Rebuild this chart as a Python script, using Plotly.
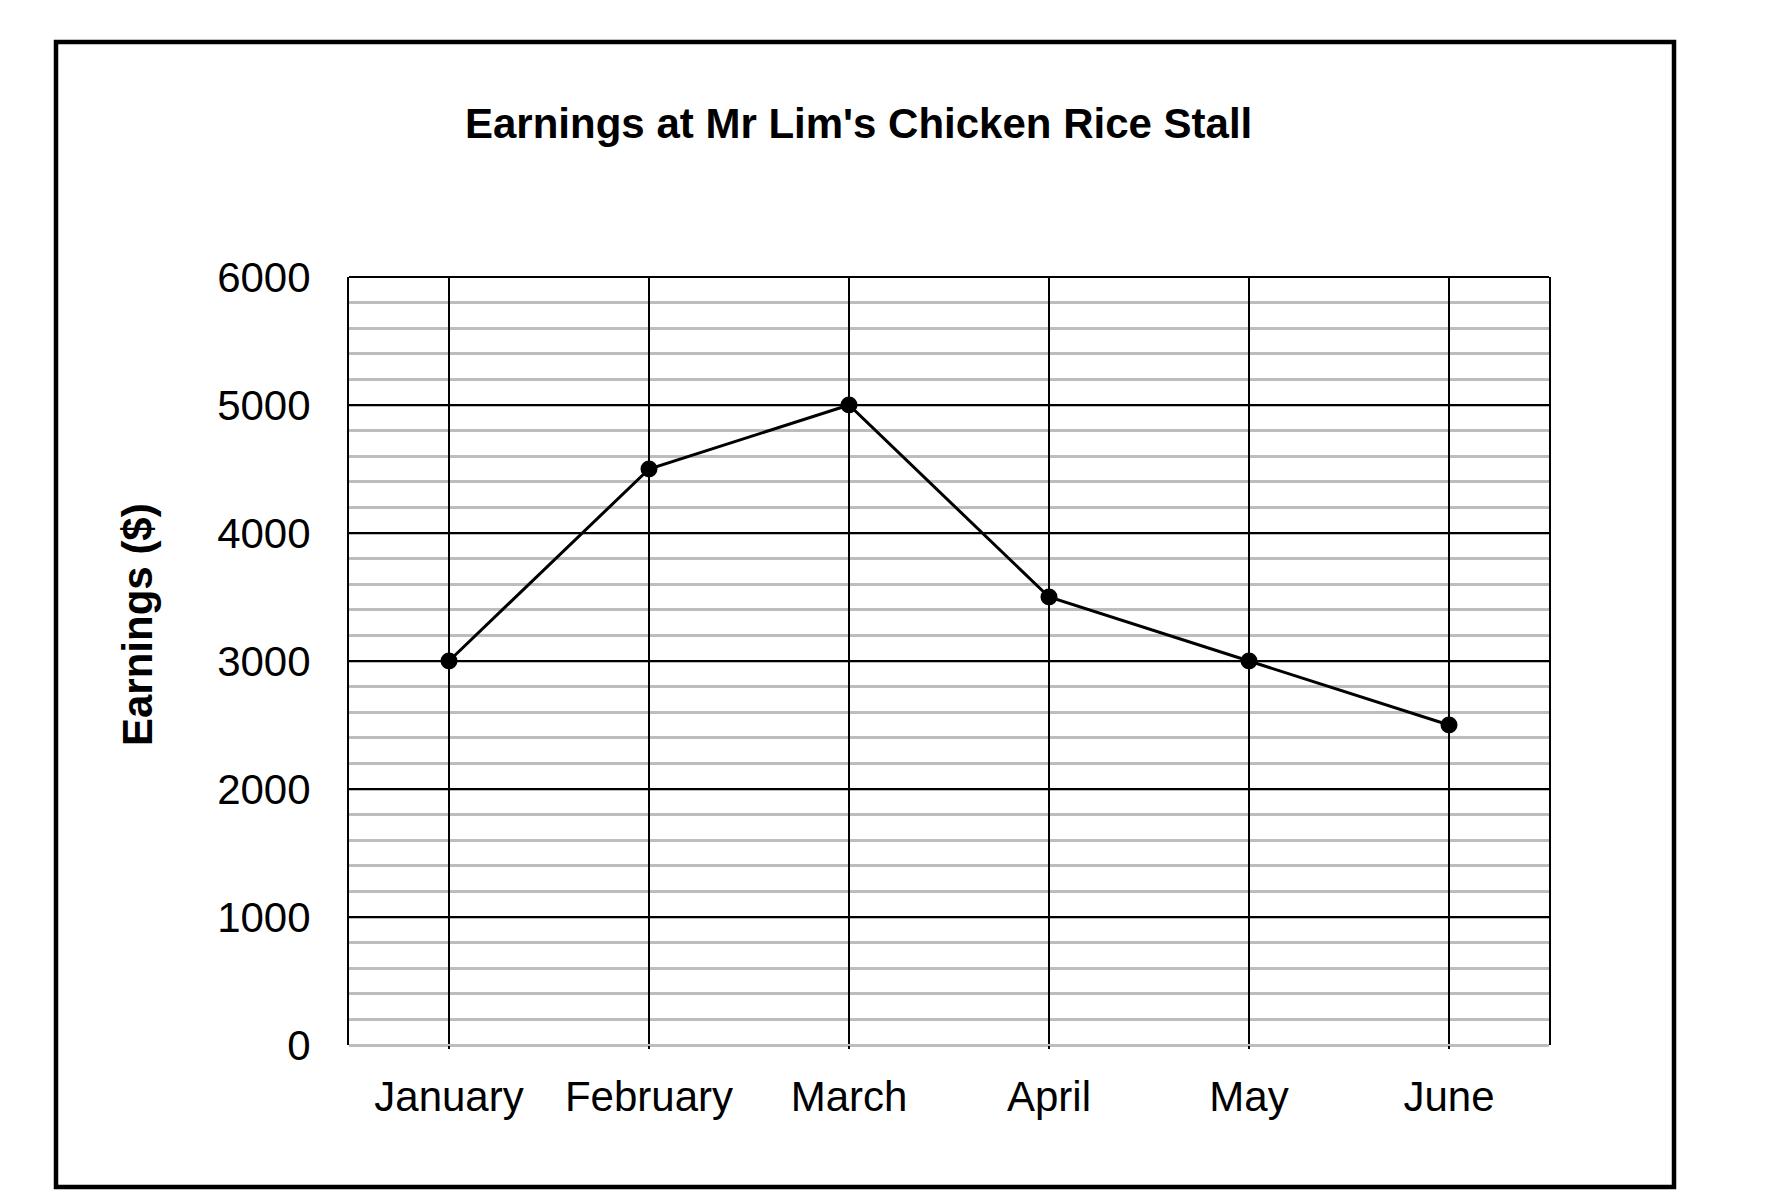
import plotly.graph_objects as go

months = ["January", "February", "March", "April", "May", "June"]
earnings = [3000, 4500, 5000, 3500, 3000, 2500]
y_ticks = [0, 1000, 2000, 3000, 4000, 5000, 6000]
title_text = "Earnings at Mr Lim's Chicken Rice Stall"
y_title = "Earnings ($)"

FONT = "Liberation Sans, Arial, sans-serif"
W, H = 1790, 1192
L, R, T, B = 349, 241, 277, 147
PW, PH = W - L - R, H - T - B

def px_to_paper_x(px):
    return (px - L) / PW

def px_to_paper_y(py):
    return (H - B - py) / PH

fig = go.Figure()
fig.add_trace(go.Scatter(
    x=months, y=earnings, mode="lines+markers",
    line=dict(color="black", width=3),
    marker=dict(color="black", size=17),
    showlegend=False, cliponaxis=False,
))

fig.update_layout(
    width=W, height=H,
    margin=dict(l=L, r=R, t=T, b=B, pad=0),
    paper_bgcolor="white", plot_bgcolor="white",
    font=dict(family=FONT, color="black", size=42),
    xaxis=dict(
        range=[-0.5, 5.5], showgrid=True, gridcolor="black", gridwidth=2,
        showline=False, zeroline=False, ticks="outside", ticklen=3,
        tickcolor="black", tickwidth=2, ticklabelstandoff=12,
        tickfont=dict(size=42, family=FONT),
    ),
    yaxis=dict(
        range=[0, 6000], tickvals=y_ticks, showgrid=True, gridcolor="black",
        gridwidth=2.2, showline=True, linecolor="black", linewidth=2, mirror=True,
        zeroline=True, zerolinecolor="#bdbdbd", zerolinewidth=2.5,
        ticks="", ticklabelstandoff=28,
        tickfont=dict(size=42, family=FONT),
        minor=dict(dtick=200, showgrid=True, gridcolor="#bdbdbd", gridwidth=2.5),
    ),
    shapes=[
        dict(type="rect", xref="paper", yref="paper",
             x0=px_to_paper_x(56), x1=px_to_paper_x(1674),
             y0=px_to_paper_y(1187), y1=px_to_paper_y(42),
             line=dict(color="black", width=4.5), layer="above"),
        dict(type="line", xref="paper", yref="paper",
             x0=0, x1=1, y0=1, y1=1,
             line=dict(color="black", width=2), layer="below"),
    ],
    annotations=[
        dict(text="<b>" + title_text + "</b>", xref="paper", yref="paper",
             x=px_to_paper_x(858), y=px_to_paper_y(123),
             xanchor="center", yanchor="middle", showarrow=False,
             font=dict(size=42, family=FONT)),
        dict(text="<b>" + y_title + "</b>", xref="paper", yref="paper",
             x=px_to_paper_x(137), y=px_to_paper_y(625), textangle=-90,
             xanchor="center", yanchor="middle", showarrow=False,
             font=dict(size=42, family=FONT)),
    ],
)

fig.write_html("out.html", config={"displayModeBar": False},
               post_script="document.body.style.margin='0';")
